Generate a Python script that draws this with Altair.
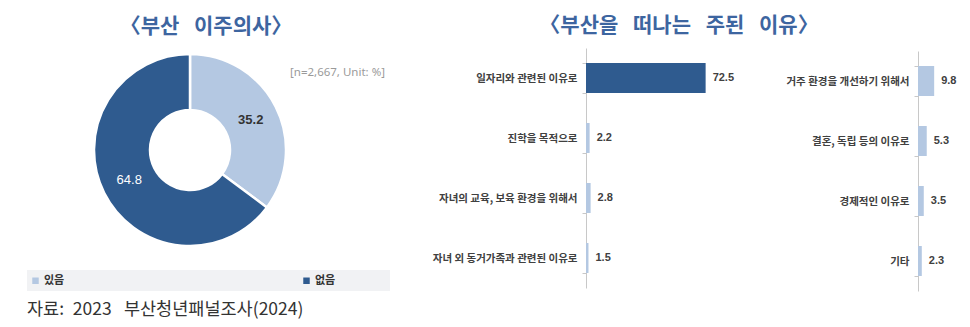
import altair as alt
import pandas as pd

# ---- data ----
donut_labels = ["있음", "없음"]
donut_values = [35.2, 64.8]

left_reasons = ["일자리와 관련된 이유로", "진학을 목적으로",
                "자녀의 교육, 보육 환경을 위해서", "자녀 외 동거가족과 관련된 이유로"]
left_values = [72.5, 2.2, 2.8, 1.5]

right_reasons = ["거주 환경을 개선하기 위해서", "결혼, 독립 등의 이유로",
                 "경제적인 이유로", "기타"]
right_values = [9.8, 5.3, 3.5, 2.3]

SP = "\u2002\u2009"
title_left = "〈부산" + SP + "이주의사〉"
title_right = "〈부산을" + SP + "떠나는" + SP + "주된" + SP + "이유〉"
note_text = "[n=2,667, Unit: %]"
source_text = "자료:" + "\u2002" + "2023" + "\u2002\u2009" + "부산청년패널조사(2024)"
highlight = "일자리와 관련된 이유로"

DARK = "#2f5b8f"
LIGHT = "#b4c8e2"
TITLE_C = "#3d65a0"
KFONT = "Noto Sans CJK KR"

donut_df = pd.DataFrame({"label": donut_labels, "value": donut_values,
                         "idx": list(range(len(donut_labels)))})
left_df = pd.DataFrame({"reason": left_reasons, "value": left_values})
right_df = pd.DataFrame({"reason": right_reasons, "value": right_values})

# ---- donut ----
arc = alt.Chart(donut_df).mark_arc(radius=96, innerRadius=40, stroke="white",
                                   strokeWidth=2.5).encode(
    theta=alt.Theta("value:Q", stack=True),
    order=alt.Order("idx:Q"),
    color=alt.Color("label:N", scale=alt.Scale(domain=donut_labels, range=[LIGHT, DARK]),
                    legend=alt.Legend(title=None, orient="none", legendX=30, legendY=275,
                                      direction="horizontal", symbolType="square",
                                      symbolSize=42, symbolStrokeWidth=0,
                                      labelFontSize=11, labelFontWeight="bold",
                                      labelColor="#333333", labelFont=KFONT,
                                      columnPadding=236, labelOffset=3)),
    x=alt.value(190), y=alt.value(150),
)
is_light = alt.datum.label == donut_labels[0]
arc_text_base = alt.Chart(donut_df).encode(
    theta=alt.Theta("value:Q", stack=True),
    order=alt.Order("idx:Q"),
    x=alt.value(190), y=alt.value(150),
)
arc_text_light = arc_text_base.mark_text(
    radius=68, fontSize=13, fontWeight="bold", color="#333333", font="Liberation Sans"
).encode(text=alt.condition(is_light, alt.Text("value:Q", format=".1f"), alt.value("")))
arc_text_dark = arc_text_base.mark_text(
    radius=68, fontSize=13, color="white", font="Liberation Sans"
).encode(text=alt.condition(~is_light, alt.Text("value:Q", format=".1f"), alt.value("")))

legend_band = alt.Chart(pd.DataFrame({"a": [0]})).mark_rect(color="#f1f2f4").encode(
    x=alt.value(27), x2=alt.value(390), y=alt.value(270), y2=alt.value(291))

def label(text, x, y, size, color, weight="normal", font=KFONT, align="center"):
    return alt.Chart(pd.DataFrame({"t": [text]})).mark_text(
        fontSize=size, color=color, fontWeight=weight, font=font, align=align,
        baseline="middle").encode(x=alt.value(x), y=alt.value(y), text="t:N")

t_left = label(title_left, 206, 27, 21, TITLE_C, "bold")
t_right = label(title_right, 679, 26, 21, TITLE_C, "bold")
t_note = label(note_text, 290, 73, 11.5, "#9a9a9a", font="Noto Sans", align="left")
t_source = label(source_text, 27, 310, 17.5, "#333333", align="left")

# ---- bars ----
def bar_panel(df, reasons, xrange, yrange, axis_x, dom_max):
    yax = alt.Axis(title=None, orient="left", offset=-axis_x, domainColor="#c8c8c8",
                   tickColor="#c8c8c8", tickSize=4, tickBand="extent", labelPadding=5,
                   labelFontSize=10.5, labelFontWeight="bold", labelColor="#404040",
                   labelFont=KFONT, labelLimit=300, grid=False)
    base = alt.Chart(df).encode(
        y=alt.Y("reason:N", sort=reasons, axis=yax,
                scale=alt.Scale(range=yrange, paddingInner=0.5, paddingOuter=0.25)),
        x=alt.X("value:Q", axis=None, scale=alt.Scale(domain=[0, dom_max], range=xrange)),
    )
    bars = base.mark_bar(size=30).encode(
        color=alt.condition(alt.datum.reason == highlight, alt.value(DARK), alt.value(LIGHT)))
    txt = base.mark_text(align="left", dx=7, fontSize=11, fontWeight="bold",
                         color="#404040", font="Liberation Sans").encode(
        text=alt.Text("value:Q", format=".1f"))
    return alt.layer(bars, txt)

left_panel = bar_panel(left_df, left_reasons, [586, 751], [48, 288], 586, 100)
right_panel = bar_panel(right_df, right_reasons, [918, 967.5], [51, 291], 918, 30)

chart = alt.layer(
    legend_band, arc, arc_text_light, arc_text_dark,
    t_left, t_right, t_note, t_source,
    left_panel, right_panel,
).resolve_scale(x="independent", y="independent").properties(
    width=970, height=327, padding=0,
    autosize=alt.AutoSizeParams(type="none"),
    background="white",
).configure_view(stroke=None)

chart.save("out.html", embed_options={"renderer": "svg", "actions": False})
